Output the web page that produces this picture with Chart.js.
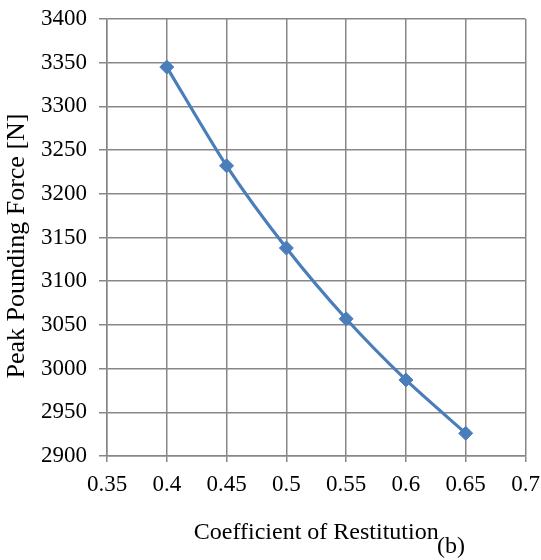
<!DOCTYPE html>
<html>
<head>
<meta charset="utf-8">
<script src="https://cdn.jsdelivr.net/npm/chart.js@4.4.0/dist/chart.umd.min.js"></script>
<style>
  html, body { margin: 0; padding: 0; background: #ffffff; }
  #wrap { width: 541px; height: 560px; position: relative; }
</style>
</head>
<body>
<div id="wrap"><canvas id="c" width="541" height="560"></canvas></div>
<script>
// Data
const restitution = [0.40, 0.45, 0.50, 0.55, 0.60, 0.65];
const peakForce = [3345, 3232, 3138, 3057, 2987, 2926];
const xTicks = [0.35, 0.4, 0.45, 0.5, 0.55, 0.6, 0.65, 0.7];
const yTicks = [2900, 2950, 3000, 3050, 3100, 3150, 3200, 3250, 3300, 3350, 3400];
const xTitle = 'Coefficient of Restitution';
const yTitle = 'Peak Pounding Force [N]';
const panelLabel = '(b)';

const FONT = "'Liberation Serif', 'Times New Roman', serif";
const GRID = '#878787';
const LINE = '#4a7ebb';

const points = restitution.map((x, i) => ({ x: x, y: peakForce[i] }));

const textPlugin = {
  id: 'extraText',
  afterDraw(chart) {
    const ctx = chart.ctx;
    ctx.save();
    ctx.fillStyle = '#000';
    ctx.textAlign = 'center';
    ctx.textBaseline = 'middle';
    ctx.font = '24px ' + FONT;
    ctx.fillText(panelLabel, 451, 547);
    ctx.translate(17, 246);
    ctx.rotate(-Math.PI / 2);
    ctx.font = '26px ' + FONT;
    ctx.fillText(yTitle, 0, 0);
    ctx.restore();
  }
};

new Chart(document.getElementById('c'), {
  type: 'line',
  data: {
    datasets: [{
      data: points,
      borderColor: LINE,
      backgroundColor: LINE,
      borderWidth: 3.2,
      pointStyle: 'rectRot',
      pointRadius: 7,
      pointHoverRadius: 7,
      pointBackgroundColor: LINE,
      pointBorderColor: LINE,
      pointBorderWidth: 1,
      tension: 0.25,
      fill: false
    }]
  },
  options: {
    responsive: false,
    animation: false,
    devicePixelRatio: 1,
    layout: { padding: { left: 0, right: 15.5, top: 19, bottom: 0 } },
    plugins: {
      legend: { display: false },
      tooltip: { enabled: false },
      title: { display: false }
    },
    scales: {
      x: {
        type: 'linear',
        min: xTicks[0],
        max: xTicks[xTicks.length - 1],
        afterBuildTicks(scale) { scale.ticks = xTicks.map(v => ({ value: v })); },
        afterFit(scale) { scale.height = 104; scale.paddingLeft = 0; scale.paddingRight = 0; },
        ticks: {
          color: '#000',
          font: { family: FONT, size: 23 },
          padding: 9,
          maxRotation: 0,
          autoSkip: false,
          callback: v => String(Number(v.toFixed(2)))
        },
        grid: { color: GRID, lineWidth: 1.5, tickLength: 6, tickColor: GRID, drawTicks: true },
        border: { color: GRID, width: 1.5 },
        title: {
          display: true,
          text: xTitle,
          color: '#000',
          font: { family: FONT, size: 24 },
          padding: { top: 0, bottom: 13 }
        }
      },
      y: {
        type: 'linear',
        min: yTicks[0],
        max: yTicks[yTicks.length - 1],
        afterBuildTicks(scale) { scale.ticks = yTicks.map(v => ({ value: v })); },
        afterFit(scale) { scale.width = 107; scale.paddingTop = 0; scale.paddingBottom = 0; },
        ticks: {
          color: '#000',
          font: { family: FONT, size: 23 },
          padding: 12,
          autoSkip: false,
          callback: v => String(v)
        },
        grid: { color: GRID, lineWidth: 1.5, tickLength: 8, tickColor: GRID },
        border: { color: GRID, width: 1.5 },
        title: { display: false }
      }
    }
  },
  plugins: [textPlugin]
});
</script>
</body>
</html>
